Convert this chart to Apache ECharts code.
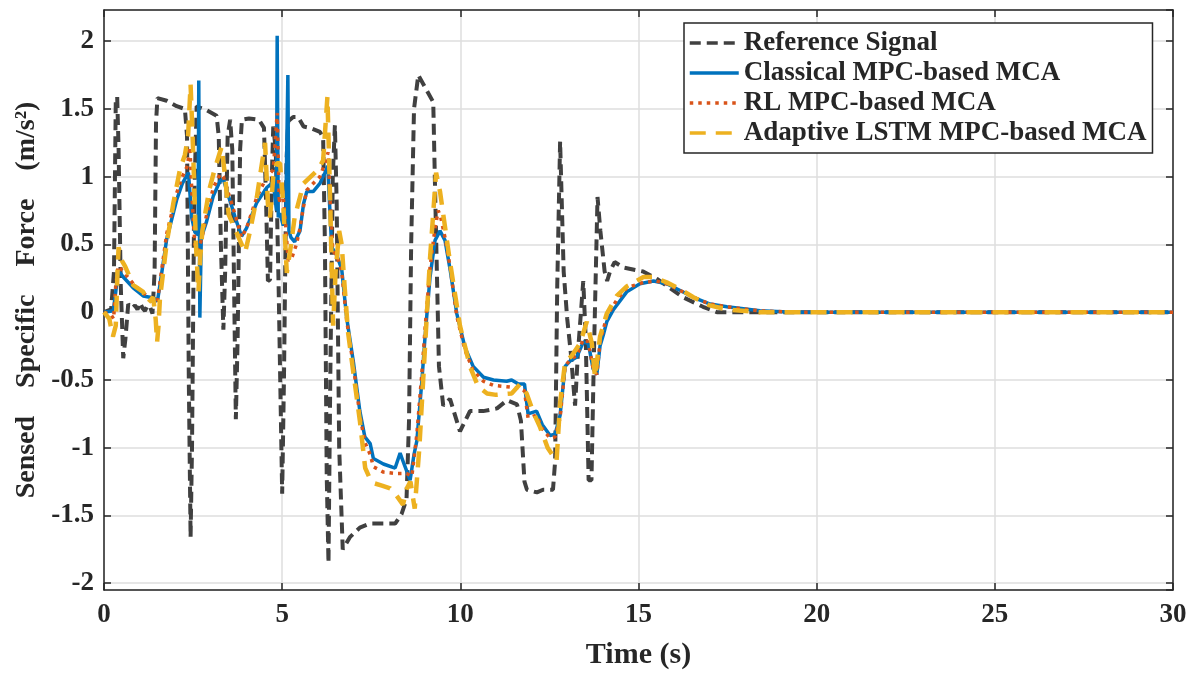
<!DOCTYPE html>
<html>
<head>
<meta charset="utf-8">
<script src="https://cdn.jsdelivr.net/npm/echarts@6/dist/echarts.min.js"></script>
<style>
html, body { margin: 0; padding: 0; background: #fff; }
#chart { width: 1196px; height: 675px; }
</style>
</head>
<body>
<div id="chart"></div>
<script>
// series names (legend order)
const names = [
  "Reference Signal",
  "Classical MPC-based MCA",
  "RL MPC-based MCA",
  "Adaptive LSTM MPC-based MCA"
];

// [time (s), sensed specific force (m/s^2)]
const refSignal = [
  [0,0],[0.2,0.02],[0.28,0.3],[0.33,1.55],[0.37,1.59],[0.41,1.2],[0.47,0.2],[0.54,-0.34],[0.6,-0.2],
  [0.68,0.06],[0.78,0.03],[0.87,0.05],[0.94,0.02],[1.01,0.07],[1.08,0.03],[1.15,0.01],[1.22,0.05],
  [1.29,0.04],[1.36,-0.01],[1.42,0.3],[1.46,1.4],[1.5,1.58],[1.76,1.56],[2.04,1.52],[2.27,1.5],
  [2.33,1.3],[2.38,-0.5],[2.43,-1.66],[2.47,-1.0],[2.53,0.8],[2.6,1.52],[2.69,1.51],[2.88,1.49],
  [3.16,1.45],[3.22,1.3],[3.28,0.5],[3.35,-0.13],[3.4,0.3],[3.47,1.3],[3.54,1.42],[3.6,1.2],
  [3.65,0.2],[3.7,-0.79],[3.75,-0.2],[3.82,1.2],[3.87,1.42],[4.07,1.43],[4.35,1.42],[4.49,1.36],
  [4.55,0.8],[4.6,0.23],[4.66,0.24],[4.71,1.0],[4.75,1.37],[4.82,1.2],[4.9,0.2],[5.0,-1.34],
  [5.05,-0.5],[5.12,1.1],[5.17,1.41],[5.31,1.44],[5.45,1.44],[5.6,1.37],[5.78,1.36],[6.06,1.33],
  [6.15,1.29],[6.2,0.5],[6.25,-1.2],[6.3,-1.85],[6.35,-0.5],[6.42,1.0],[6.48,1.38],[6.53,0.8],
  [6.6,-1.0],[6.7,-1.75],[6.9,-1.66],[7.18,-1.59],[7.46,-1.56],[7.84,-1.56],[8.17,-1.56],
  [8.35,-1.49],[8.49,-1.38],[8.56,-0.8],[8.62,0.5],[8.7,1.5],[8.82,1.75],[9.05,1.64],[9.24,1.55],
  [9.3,0.8],[9.4,-0.4],[9.52,-0.69],[9.71,-0.64],[9.99,-0.88],[10.27,-0.73],[10.64,-0.73],
  [11.03,-0.71],[11.31,-0.65],[11.59,-0.68],[11.7,-0.8],[11.8,-1.25],[11.87,-1.31],[12.15,-1.33],
  [12.32,-1.31],[12.6,-1.31],[12.66,-1.1],[12.72,0.2],[12.8,1.26],[12.9,0.3],[13.0,-0.05],
  [13.1,-0.3],[13.22,-0.69],[13.3,-0.3],[13.45,0.23],[13.52,-0.2],[13.6,-1.24],[13.68,-1.24],
  [13.75,-0.3],[13.85,0.85],[13.93,0.6],[14.05,0.3],[14.12,0.23],[14.2,0.3],[14.33,0.37],
  [14.57,0.33],[15.13,0.3],[15.52,0.245],[16.25,0.11],[16.81,0.04],[17.2,0.0],[30,0]
];

const classicalMpc = [
  [0,0],[0.26,0.01],[0.33,0.15],[0.4,0.31],[0.54,0.26],[0.82,0.18],[1.1,0.12],[1.29,0.11],
  [1.43,0.1],[1.5,0.08],[1.57,0.2],[1.76,0.54],[2.04,0.83],[2.2,0.95],[2.37,1.03],[2.46,0.7],
  [2.55,0.59],[2.64,0.57],[2.66,1.71],[2.69,-0.04],[2.73,0.55],[2.88,0.67],[3.07,0.86],[3.26,0.97],
  [3.35,0.98],[3.49,0.86],[3.68,0.7],[3.86,0.56],[4.0,0.62],[4.29,0.81],[4.57,0.92],[4.75,0.96],
  [4.84,0.75],[4.86,2.04],[4.89,0.7],[4.94,0.73],[5.03,0.64],[5.1,0.7],[5.16,1.75],[5.19,0.6],
  [5.25,0.55],[5.35,0.52],[5.5,0.6],[5.6,0.8],[5.69,0.89],[5.87,0.89],[6.06,0.95],[6.2,1.03],
  [6.28,1.08],[6.33,0.8],[6.39,0.48],[6.53,0.42],[6.67,0.32],[6.81,-0.04],[7.0,-0.37],[7.18,-0.73],
  [7.32,-0.92],[7.47,-0.97],[7.56,-1.08],[7.84,-1.12],[8.17,-1.15],[8.31,-1.04],[8.42,-1.12],
  [8.59,-1.24],[8.7,-1.05],[8.78,-0.95],[8.92,-0.51],[9.01,-0.18],[9.15,0.26],[9.29,0.53],
  [9.43,0.6],[9.57,0.53],[9.71,0.32],[9.9,-0.01],[10.13,-0.26],[10.36,-0.4],[10.65,-0.48],
  [10.93,-0.5],[11.3,-0.51],[11.44,-0.5],[11.63,-0.53],[11.8,-0.53],[11.9,-0.75],[12.14,-0.73],
  [12.3,-0.83],[12.52,-0.91],[12.66,-0.9],[12.8,-0.76],[12.94,-0.4],[13.08,-0.36],[13.27,-0.33],
  [13.45,-0.22],[13.59,-0.23],[13.73,-0.42],[13.83,-0.46],[13.92,-0.25],[14.01,-0.17],
  [14.11,-0.07],[14.3,0.02],[14.67,0.15],[15.04,0.21],[15.42,0.23],[15.79,0.21],[16.17,0.16],
  [16.54,0.11],[17.01,0.06],[17.48,0.04],[18.41,0.01],[19.35,0.0],[30,0]
];

const rlMpc = [
  [0,0],[0.2,-0.02],[0.27,-0.05],[0.33,0.2],[0.4,0.34],[0.54,0.3],[0.82,0.21],[1.1,0.14],
  [1.29,0.11],[1.43,0.1],[1.5,0.08],[1.57,0.22],[1.76,0.58],[2.04,0.88],[2.2,1.0],[2.34,1.08],
  [2.41,1.22],[2.48,0.8],[2.55,0.5],[2.64,0.45],[2.75,0.55],[2.88,0.72],[3.07,0.92],[3.26,1.02],
  [3.35,1.0],[3.49,0.88],[3.68,0.72],[3.86,0.55],[4.0,0.62],[4.29,0.85],[4.57,1.0],[4.75,1.05],
  [4.86,1.47],[4.92,0.8],[5.0,0.95],[5.08,0.7],[5.17,0.38],[5.27,0.4],[5.4,0.5],[5.5,0.62],
  [5.6,0.78],[5.69,0.9],[5.87,0.95],[6.06,1.0],[6.2,1.1],[6.29,1.18],[6.35,0.8],[6.42,0.45],
  [6.53,0.42],[6.67,0.3],[6.81,-0.06],[7.0,-0.4],[7.18,-0.76],[7.32,-0.96],[7.47,-1.05],
  [7.56,-1.14],[7.84,-1.18],[8.17,-1.19],[8.49,-1.19],[8.64,-1.21],[8.78,-0.9],[8.92,-0.45],
  [9.01,-0.12],[9.15,0.33],[9.29,0.62],[9.38,0.75],[9.45,0.7],[9.57,0.55],[9.71,0.34],[9.9,-0.03],
  [10.13,-0.28],[10.36,-0.43],[10.65,-0.51],[10.93,-0.54],[11.3,-0.55],[11.63,-0.56],
  [11.8,-0.58],[11.9,-0.78],[12.14,-0.76],[12.3,-0.86],[12.52,-0.93],[12.66,-0.92],[12.8,-0.78],
  [12.94,-0.4],[13.08,-0.35],[13.27,-0.32],[13.45,-0.2],[13.59,-0.22],[13.73,-0.42],
  [13.83,-0.46],[13.92,-0.22],[14.01,-0.13],[14.11,-0.03],[14.39,0.09],[14.67,0.18],
  [15.14,0.22],[15.5,0.23],[15.79,0.21],[16.17,0.16],[16.54,0.11],[17.01,0.06],[17.48,0.04],
  [18.41,0.01],[19.35,0.0],[30,0]
];

const adaptiveLstm = [
  [0,0],[0.15,-0.05],[0.25,-0.18],[0.33,-0.1],[0.38,0.3],[0.41,0.48],[0.5,0.38],[0.59,0.34],
  [0.82,0.2],[1.1,0.15],[1.24,0.07],[1.38,0.11],[1.45,-0.05],[1.49,-0.22],[1.53,-0.1],[1.57,0.1],
  [1.76,0.51],[1.95,0.81],[2.13,1.05],[2.27,1.16],[2.36,1.3],[2.43,1.68],[2.5,1.2],[2.58,0.5],
  [2.65,0.15],[2.7,0.4],[2.76,0.6],[2.95,0.9],[3.1,1.05],[3.3,1.22],[3.4,1.0],[3.5,0.72],
  [3.7,0.6],[3.96,0.44],[4.1,0.6],[4.29,0.85],[4.52,1.25],[4.6,0.8],[4.66,0.7],[4.75,1.0],
  [4.85,1.1],[4.94,1.1],[5.03,0.8],[5.13,0.29],[5.25,0.5],[5.35,0.7],[5.6,0.95],[6.0,1.05],
  [6.15,1.12],[6.27,1.59],[6.33,1.0],[6.43,-0.1],[6.5,0.3],[6.6,0.6],[6.67,0.5],[6.75,0.2],
  [6.85,-0.15],[7.0,-0.45],[7.18,-0.8],[7.33,-1.15],[7.45,-1.22],[7.55,-1.26],[7.8,-1.28],
  [8.03,-1.3],[8.2,-1.35],[8.39,-1.42],[8.5,-1.3],[8.6,-1.25],[8.72,-1.45],[8.85,-1.0],
  [9.0,-0.3],[9.15,0.4],[9.32,1.03],[9.38,0.95],[9.43,0.89],[9.71,0.37],[9.99,-0.1],[10.27,-0.4],
  [10.5,-0.55],[10.75,-0.6],[11.0,-0.61],[11.44,-0.6],[11.68,-0.53],[11.86,-0.6],[12.05,-0.74],
  [12.24,-0.85],[12.45,-1.0],[12.7,-1.1],[12.8,-0.67],[12.94,-0.37],[13.13,-0.32],[13.36,-0.23],
  [13.55,-0.07],[13.69,-0.23],[13.78,-0.48],[13.92,-0.18],[14.11,-0.01],[14.39,0.12],
  [14.67,0.19],[15.14,0.26],[15.42,0.26],[15.79,0.22],[16.17,0.17],[16.54,0.11],[17.0,0.05],
  [17.48,0.02],[18.4,0.0],[30,0]
];

const font = "'Liberation Serif', 'Times New Roman', serif";
const ink = "#262626";

const chart = echarts.init(document.getElementById("chart"));

function boxAxis(extra) {
  return Object.assign({
    type: "value",
    axisLine: { show: true, onZero: false, lineStyle: { color: ink, width: 1.5 } },
    axisTick: { show: true, inside: true, length: 7, lineStyle: { color: ink, width: 1.5 } },
    axisLabel: { show: false },
    splitLine: { show: false }
  }, extra);
}

const labelStyle = { fontFamily: font, fontWeight: "bold", fontSize: 27, color: ink };

chart.setOption({
  animation: false,
  backgroundColor: "#fff",
  grid: { left: 104, right: 23, top: 10, bottom: 83 },
  legend: {
    data: names,
    orient: "vertical",
    left: 684,
    top: 23,
    padding: [5, 6, 5, 4],
    itemGap: 0,
    itemWidth: 49,
    itemHeight: 14,
    // line-only legend keys (hide the marker dot)
    itemStyle: { opacity: 0 },
    lineStyle: { width: 3.5 },
    borderColor: ink,
    borderWidth: 1.5,
    backgroundColor: "#fff",
    textStyle: { fontFamily: font, fontWeight: "bold", fontSize: 27, color: ink, lineHeight: 30 }
  },
  xAxis: [
    boxAxis({
      min: 0, max: 30, interval: 5, position: "bottom",
      axisLabel: Object.assign({ show: true, margin: 12 }, labelStyle),
      splitLine: { show: true, lineStyle: { color: "#dedede", width: 1.5 } },
      name: "Time (s)", nameLocation: "middle", nameGap: 50,
      nameTextStyle: { fontFamily: font, fontWeight: "bold", fontSize: 30, color: ink }
    }),
    boxAxis({ min: 0, max: 30, interval: 5, position: "top" })
  ],
  yAxis: [
    boxAxis({
      min: -2.05, max: 2.23, splitNumber: 8, position: "left",
      axisLabel: Object.assign({ show: true, margin: 10, showMinLabel: false, showMaxLabel: false }, labelStyle),
      splitLine: { show: true, lineStyle: { color: "#dedede", width: 1.5 } },
      name: "Sensed    Specific    Force    (m/s\u00b2)", nameLocation: "middle", nameGap: 60,
      nameTextStyle: { fontFamily: font, fontWeight: "bold", fontSize: 28, color: ink }
    }),
    boxAxis({ min: -2.05, max: 2.23, splitNumber: 8, position: "right" })
  ],
  series: [
    {
      name: names[0], type: "line", data: refSignal, symbol: "none", z: 2,
      lineStyle: { color: "#404040", width: 4, type: [11, 6] },
      itemStyle: { color: "#404040" }
    },
    {
      name: names[1], type: "line", data: classicalMpc, symbol: "none", z: 3,
      lineStyle: { color: "#0072BD", width: 3.5 },
      itemStyle: { color: "#0072BD" }
    },
    {
      name: names[2], type: "line", data: rlMpc, symbol: "none", z: 4,
      lineStyle: { color: "#D95319", width: 3.5, type: [3.5, 5] },
      itemStyle: { color: "#D95319" }
    },
    {
      name: names[3], type: "line", data: adaptiveLstm, symbol: "none", z: 5,
      lineStyle: { color: "#EDB120", width: 4.5, type: [16, 10] },
      itemStyle: { color: "#EDB120" }
    }
  ]
});
</script>
</body>
</html>
